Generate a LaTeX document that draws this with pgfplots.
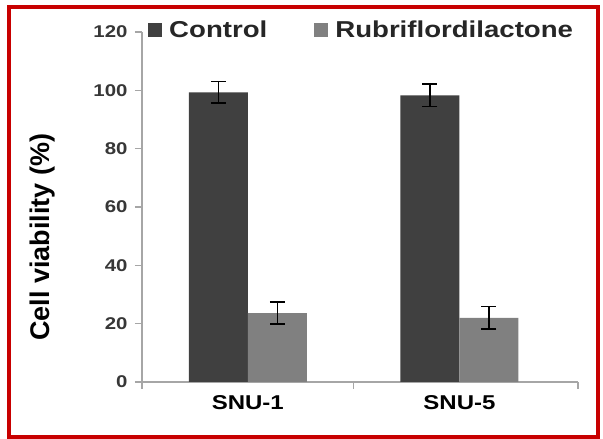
\documentclass[border=0pt]{standalone}
\usepackage{pgfplots}
\pgfplotsset{compat=1.18}
\usepackage{fontspec}
\setmainfont{Liberation Sans}[FakeStretch=1.2]
\newfontfamily\labfont{Liberation Sans}
\definecolor{ctrl}{RGB}{64,64,64}
\definecolor{rubri}{RGB}{128,128,128}
\definecolor{framered}{RGB}{200,0,0}
\definecolor{axgray}{RGB}{166,166,166}
\definecolor{txt}{RGB}{55,55,55}
\begin{document}
\begin{tikzpicture}
\useasboundingbox (-142pt,-57pt) rectangle (461pt,382pt);
\fill[white] (-142pt,-57pt) rectangle (461pt,382pt);
\begin{axis}[
  at={(0pt,0pt)}, anchor=south west,
  scale only axis, width=436pt, height=350pt,
  ybar=0pt, bar width=59pt,
  xmin=-0.5, xmax=1.56, ymin=0, ymax=120,
  ytick={0,20,...,120},
  /pgf/number format/assume math mode=true,
  xtick={-0.5,0.5,1.56}, xticklabels={},
  extra x ticks={0,1}, extra x tick labels={SNU-1,SNU-5},
  extra x tick style={major tick length=0pt, xticklabel style={font=\bfseries\fontsize{20}{20}\selectfont, text=black, yshift=-10pt}},
  axis x line*=bottom, axis y line*=left,
  axis line style={axgray, line width=1.5pt, -},
  tick style={axgray, line width=1.5pt},
  tick align=outside, major tick length=7pt,
  yticklabel style={font=\bfseries\fontsize{17}{17}\selectfont, text=txt, xshift=-4pt},
  ylabel={Cell viability (\%)},
  every axis y label/.style={at={(rel axis cs:-0.228,0.414)}, rotate=90, anchor=center, font=\labfont\bfseries\fontsize{27}{27}\selectfont},
  legend style={at={(rel axis cs:0.007,1.006)}, anchor=west, draw=none, fill=none,
    legend columns=2, font=\bfseries\fontsize{23}{23}\selectfont, text=black!85,
    /tikz/every even column/.append style={column sep=45pt}},
  error bars/y dir=both, error bars/y explicit,
  error bars/error bar style={line width=1.5pt, black},
  error bars/error mark options={rotate=90, mark size=7.5pt, line width=1.5pt, black},
]
\addplot[fill=ctrl, draw=none, legend image code/.code={\fill[ctrl] (0pt,-7pt) rectangle (14pt,7pt);}]
  coordinates {(0,99.3) +- (0,3.7) (1,98.3) +- (0,3.8)};
\addplot[fill=rubri, draw=none, legend image code/.code={\fill[rubri] (0pt,-7pt) rectangle (14pt,7pt);}]
  coordinates {(0,23.6) +- (0,3.8) (1,22.0) +- (0,3.9)};
\legend{\hspace{5pt}Control, \hspace{5pt}Rubriflordilactone}
\end{axis}
\draw[framered, line width=4pt] (-133pt,-55pt) rectangle (456pt,375pt);
\end{tikzpicture}
\end{document}
